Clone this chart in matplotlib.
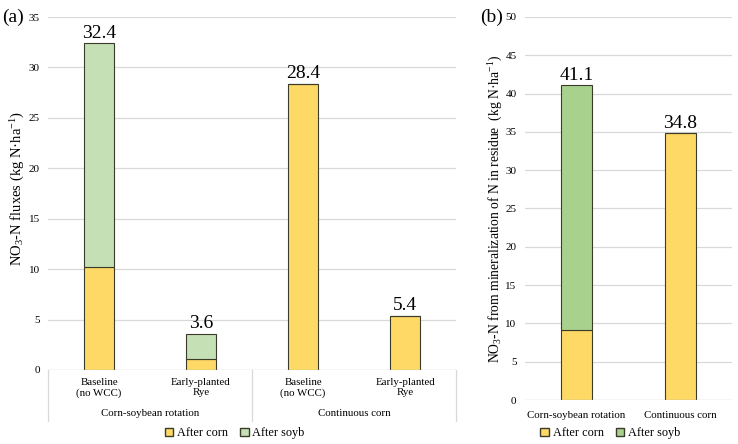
import matplotlib
matplotlib.use('Agg')
import matplotlib.pyplot as plt
from matplotlib.patches import Patch
import numpy as np

plt.rcParams['font.family'] = ['Liberation Serif', 'DejaVu Serif']
plt.rcParams['mathtext.fontset'] = 'custom'
plt.rcParams['mathtext.rm'] = 'Liberation Serif'
plt.rcParams['mathtext.it'] = 'Liberation Serif:italic'

# panel (a) data
a_groups = ['Corn-soybean rotation', 'Continuous corn']
a_labels = ['Baseline\n(no WCC)', 'Early-planted\nRye', 'Baseline\n(no WCC)', 'Early-planted\nRye']
a_corn = [10.2, 1.1, 28.4, 5.4]
a_soy = [22.2, 2.5, 0.0, 0.0]
a_total = [32.4, 3.6, 28.4, 5.4]

# panel (b) data
b_labels = ['Corn-soybean rotation', 'Continuous corn']
b_corn = [9.2, 34.8]
b_soy = [31.9, 0.0]
b_total = [41.1, 34.8]

YELLOW = '#FFD966'
GREEN_A = '#C5E0B4'
GREEN_B = '#A9D18E'
EDGE = '#3b3b2a'
GRID = '#d9d9d9'

fig = plt.figure(figsize=(7.38, 4.44), dpi=100)
ax1 = fig.add_axes([0.065, 0.1667, 0.553, 0.795])
ax2 = fig.add_axes([0.711, 0.099, 0.281, 0.863])


def style_axis(ax, ymax):
    for s in ax.spines.values():
        s.set_visible(False)
    ax.set_ylim(0, ymax)
    ax.set_yticks(np.arange(0, ymax + 1, 5))
    ax.yaxis.grid(True, color=GRID, linewidth=0.9)
    ax.set_axisbelow(True)
    ax.tick_params(axis='y', length=0, labelsize=8, pad=6)
    ax.tick_params(axis='x', length=0)


def legend_handles(green):
    return [Patch(facecolor=YELLOW, edgecolor=EDGE, label='After corn'),
            Patch(facecolor=green, edgecolor=EDGE, label='After soyb')]


# ---- (a)
x = np.arange(len(a_labels))
ax1.bar(x, a_corn, width=0.3, color=YELLOW, edgecolor=EDGE, linewidth=0.8)
ax1.bar(x, a_soy, width=0.3, bottom=a_corn, color=GREEN_A, edgecolor=EDGE, linewidth=0.8)
for xi, t in zip(x, a_total):
    ax1.text(xi, t + 0.15, f'{t:.1f}', ha='center', va='bottom', fontsize=14)
style_axis(ax1, 35)
ax1.set_xlim(-0.5, len(a_labels) - 0.5)
ax1.set_xticks(x)
ax1.set_xticklabels(a_labels, fontsize=7.8, linespacing=1.15)
ax1.tick_params(axis='x', pad=6)
for gi, g in enumerate(a_groups):
    ax1.text(0.25 + 0.5 * gi, -0.122, g, transform=ax1.transAxes,
             ha='center', va='center', fontsize=7.8)
for xs in (0, 0.5, 1):
    ax1.plot([xs, xs], [0, -0.145], transform=ax1.transAxes, color=GRID,
             linewidth=0.9, clip_on=False)
ax1.axhline(0, color=GRID, linewidth=0.9)
ax1.set_ylabel('NO$_3$-N fluxes (kg N·ha$^{-1}$)', fontsize=10.5)
ax1.yaxis.set_label_coords(-0.051, 0.515)
fig.legend(handles=legend_handles(GREEN_A), loc='center',
           bbox_to_anchor=(0.318, 0.024), ncol=2, frameon=False,
           fontsize=8.8, handlelength=0.7, handleheight=0.7, handletextpad=0.3,
           columnspacing=1.0, borderpad=0)
fig.text(0.003, 0.962, '(a)', fontsize=14, va='center')

# ---- (b)
xb = np.arange(len(b_labels))
ax2.bar(xb, b_corn, width=0.3, color=YELLOW, edgecolor=EDGE, linewidth=0.8)
ax2.bar(xb, b_soy, width=0.3, bottom=b_corn, color=GREEN_B, edgecolor=EDGE, linewidth=0.8)
for xi, t in zip(xb, b_total):
    ax2.text(xi, t + 0.2, f'{t:.1f}', ha='center', va='bottom', fontsize=14)
style_axis(ax2, 50)
ax2.set_xlim(-0.5, len(b_labels) - 0.5)
ax2.set_xticks(xb)
ax2.set_xticklabels(b_labels, fontsize=7.8)
ax2.tick_params(axis='x', pad=8)
ax2.axhline(0, color=GRID, linewidth=0.9)
ax2.set_ylabel('NO$_3$-N from mineralization of N in residue  (kg N·ha$^{-1}$)',
               fontsize=9.8)
ax2.yaxis.set_label_coords(-0.097, 0.499)
fig.legend(handles=legend_handles(GREEN_B), loc='center',
           bbox_to_anchor=(0.827, 0.024), ncol=2, frameon=False,
           fontsize=8.8, handlelength=0.7, handleheight=0.7, handletextpad=0.3,
           columnspacing=1.0, borderpad=0)
fig.text(0.651, 0.962, '(b)', fontsize=14, va='center')

fig.savefig('out.png', dpi=100)
